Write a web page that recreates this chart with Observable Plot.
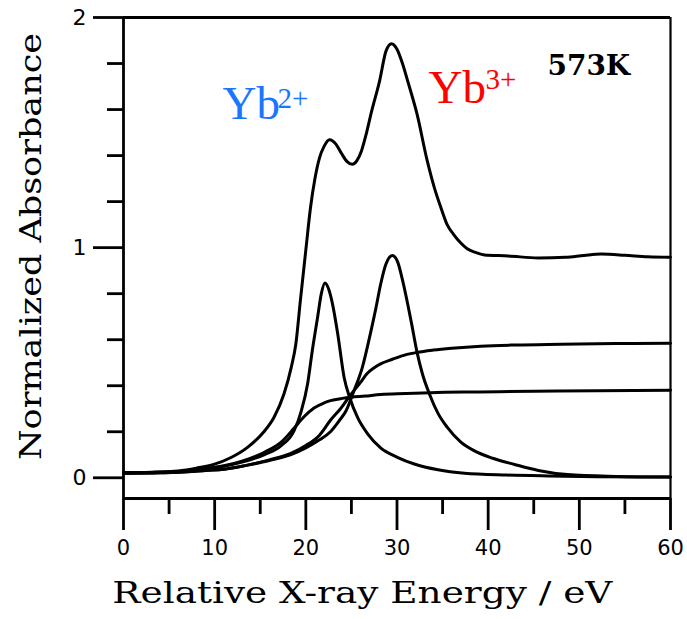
<!DOCTYPE html>
<html>
<head>
<meta charset="utf-8">
<script src="https://cdn.jsdelivr.net/npm/d3@7"></script>
<script src="https://cdn.jsdelivr.net/npm/@observablehq/plot@0.6"></script>
<style>
  html, body { margin: 0; padding: 0; background: #ffffff; }
  #chart { width: 687px; height: 619px; }
</style>
</head>
<body>
<div id="chart"></div>
<script>
// ---- data: [energy (eV), normalized absorbance] ----
const totalSpectrum = [
  [0,0.022],[3,0.024],[6,0.03],[8,0.042],[9.9,0.058],[11.8,0.088],[13.6,0.132],[15.4,0.2],
  [16.5,0.262],[17.6,0.364],[18.4,0.48],[18.9,0.58],[19.4,0.77],[20.0,0.99],[20.5,1.17],
  [21.0,1.3],[21.5,1.39],[22.0,1.44],[22.6,1.469],[23.3,1.45],[23.9,1.41],[24.5,1.375],
  [25.1,1.362],[25.6,1.378],[26.1,1.42],[26.6,1.49],[27.2,1.59],[28.1,1.726],[28.8,1.855],
  [29.4,1.886],[30.0,1.862],[30.6,1.80],[31.2,1.72],[32.2,1.58],[33.3,1.38],[34.1,1.26],
  [34.8,1.176],[35.5,1.1],[36.2,1.058],[37.0,1.02],[37.7,0.995],[38.7,0.978],[39.6,0.968],
  [42.2,0.964],[45.5,0.955],[48.5,0.958],[50.5,0.966],[52.4,0.972],[55,0.967],[57.5,0.96],[60,0.958]
];
const yb2Peak = [
  [0,0.022],[4,0.024],[7,0.03],[9,0.038],[11,0.05],[13,0.068],[15.4,0.1],[17.3,0.14],
  [18.7,0.204],[19.5,0.29],[20.2,0.41],[20.7,0.55],[21.3,0.70],[21.7,0.80],[22.1,0.846],
  [22.5,0.82],[22.9,0.76],[23.5,0.625],[24.2,0.436],[24.8,0.35],[25.7,0.26],[26.8,0.19],
  [28.2,0.13],[30.1,0.088],[31.9,0.06],[34.5,0.035],[37.4,0.02],[42,0.012],[46.6,0.008],
  [52,0.005],[60,0.003]
];
const yb3Peak = [
  [0,0.02],[4,0.022],[7,0.026],[9,0.032],[11,0.037],[13.6,0.055],[16,0.075],[18.3,0.1],
  [20,0.13],[21.5,0.165],[22.7,0.2],[23.7,0.25],[24.4,0.29],[25.3,0.38],[26.2,0.48],
  [27.1,0.63],[27.7,0.74],[28.2,0.84],[28.8,0.93],[29.5,0.966],[30.1,0.935],[30.6,0.86],
  [31.2,0.75],[31.6,0.67],[32.2,0.545],[32.8,0.45],[33.6,0.36],[34.5,0.28],[35.5,0.22],
  [37,0.155],[38.5,0.117],[40.5,0.085],[42.9,0.058],[45.5,0.032],[48.7,0.014],[54,0.006],[60,0.003]
];
const yb2Step = [
  [0,0.022],[4,0.024],[7,0.03],[9,0.04],[11,0.052],[13,0.072],[15.4,0.11],[17.3,0.155],
  [18.7,0.215],[19.8,0.265],[20.9,0.303],[22,0.325],[22.7,0.335],[24,0.345],[25,0.35],
  [26.5,0.355],[28.2,0.362],[31,0.366],[33.7,0.37],[39,0.373],[45,0.376],[52,0.378],[60,0.38]
];
const yb3Step = [
  [0,0.02],[4,0.022],[7,0.026],[9,0.032],[11,0.037],[13.6,0.055],[16,0.078],[18.3,0.105],
  [20,0.14],[21.5,0.185],[22.7,0.25],[23.8,0.3],[24.9,0.36],[26,0.415],[26.7,0.452],
  [27.5,0.478],[28.2,0.495],[29.5,0.515],[31,0.535],[32.2,0.545],[34,0.555],[36,0.563],
  [39.2,0.572],[43,0.577],[48,0.58],[54,0.583],[60,0.585]
];

// axis tick values
const xMajorTicks = [0, 10, 20, 30, 40, 50, 60];
const xMinorTicks = [5, 15, 25, 35, 45, 55];
const yMajorTicks = [0, 1, 2];
const yMinorTicks = [0.2, 0.4, 0.6, 0.8, 1.2, 1.4, 1.6, 1.8];

// texts
const xTitle = "Relative X-ray Energy / eV";
const yTitle = "Normalized Absorbance";
const temperatureLabel = "573K";
const ionBase = "Yb";
const yb2Charge = "2+";
const yb3Charge = "3+";

const series = [
  ["total", totalSpectrum], ["yb2Peak", yb2Peak], ["yb3Peak", yb3Peak],
  ["yb2Step", yb2Step], ["yb3Step", yb3Step]
];
const rows = series.flatMap(([name, pts]) => pts.map(([e, a]) => ({series: name, energy: e, absorbance: a})));

const AX = 2.8;
const plot = Plot.plot({
  width: 687,
  height: 619,
  marginLeft: 123,
  marginRight: 17,
  marginTop: 17,
  marginBottom: 121,
  x: {domain: [0, 60]},
  y: {domain: [-0.09, 2]},
  style: {background: "#ffffff", color: "#000000", fontFamily: "DejaVu Sans", overflow: "visible"},
  marks: [
    // frame
    Plot.ruleX([0], {y1: -0.09, y2: 2, strokeWidth: AX}),
    Plot.ruleX([60], {y1: -0.09, y2: 2, strokeWidth: 2.2}),
    Plot.ruleY([2], {x1: 0, x2: 60, strokeWidth: AX}),
    Plot.ruleY([-0.09], {x1: 0, x2: 60, strokeWidth: AX}),
    // axes
    Plot.axisX(xMajorTicks, {tickSize: 32, tickPadding: 10, strokeWidth: AX, fontSize: 21, label: null}),
    Plot.axisX(xMinorTicks, {tickSize: 16, tickFormat: () => "", strokeWidth: AX, label: null}),
    Plot.axisY(yMajorTicks, {tickSize: 30, tickPadding: 7, strokeWidth: AX, fontSize: 22, label: null, tickFormat: d => String(d)}),
    Plot.axisY(yMinorTicks, {tickSize: 16, tickFormat: () => "", strokeWidth: AX, label: null}),
    // curves
    Plot.line(rows, {x: "energy", y: "absorbance", z: "series", stroke: "#000", strokeWidth: 3, curve: "monotone-x"}),
    // annotations
    Plot.text([ionBase], {x: 10.86, y: 1.557, text: d => d, textAnchor: "start", lineAnchor: "bottom",
      fontFamily: "Liberation Serif", fontSize: 47, fill: "#1a75ff"}),
    Plot.text([yb2Charge], {x: 16.9, y: 1.605, text: d => d, textAnchor: "start", lineAnchor: "bottom",
      fontFamily: "Liberation Serif", fontSize: 29, fill: "#1a75ff"}),
    Plot.text([ionBase], {x: 33.46, y: 1.627, text: d => d, textAnchor: "start", lineAnchor: "bottom",
      fontFamily: "Liberation Serif", fontSize: 47, fill: "#ff0000"}),
    Plot.text([yb3Charge], {x: 39.7, y: 1.69, text: d => d, textAnchor: "start", lineAnchor: "bottom",
      fontFamily: "Liberation Serif", fontSize: 29, fill: "#ff0000"}),
    Plot.text([temperatureLabel], {x: 46.5, y: 1.748, text: d => d, textAnchor: "start", lineAnchor: "bottom",
      fontFamily: "DejaVu Serif", fontWeight: "bold", fontSize: 28, fill: "#000"}),
    Plot.text([xTitle], {x: 26.2, y: -0.542, text: d => d, textAnchor: "middle", lineAnchor: "bottom",
      fontFamily: "DejaVu Serif", fontSize: 30, fill: "#000"}),
    Plot.text([yTitle], {x: -9.1, y: 1.005, text: d => d, textAnchor: "middle", lineAnchor: "bottom", rotate: -90,
      fontFamily: "DejaVu Serif", fontSize: 30, fill: "#000"})
  ]
});

d3.select(plot).selectAll("text").each(function() {
  const t = this.textContent;
  if (t === xTitle) d3.select(this).attr("textLength", 500).attr("lengthAdjust", "spacingAndGlyphs");
  if (t === yTitle) d3.select(this).attr("textLength", 427).attr("lengthAdjust", "spacingAndGlyphs");
});

document.getElementById("chart").appendChild(plot);
</script>
</body>
</html>
